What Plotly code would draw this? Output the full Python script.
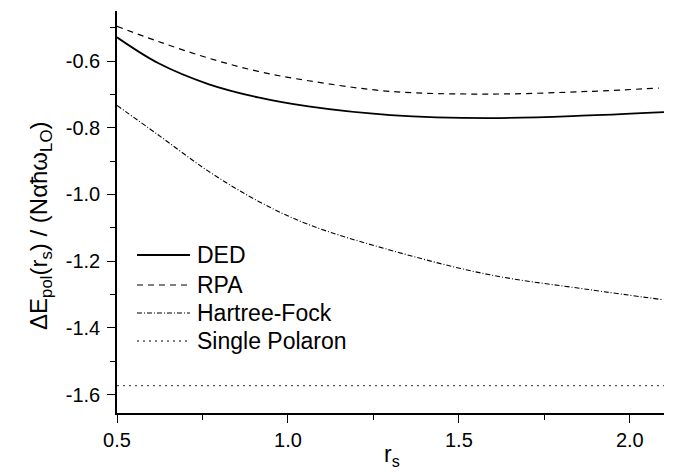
import plotly.graph_objects as go

rs = [0.5, 0.62, 0.767, 0.913, 1.06, 1.3, 1.587, 1.88, 2.1]
ded = [-0.529, -0.606, -0.669, -0.709, -0.736, -0.762, -0.771, -0.763, -0.753]
rs_rpa = [0.5, 0.62, 0.767, 0.913, 1.06, 1.3, 1.587, 1.88, 2.085]
rpa = [-0.496, -0.541, -0.591, -0.631, -0.659, -0.691, -0.699, -0.691, -0.681]
rs_hf = [0.5, 0.62, 0.767, 0.913, 1.06, 1.3, 1.587, 1.88, 2.094]
hf = [-0.733, -0.821, -0.930, -1.020, -1.090, -1.167, -1.240, -1.285, -1.315]
rs_sp = [0.5, 2.1]
single_polaron = [-1.573, -1.573]

series_names = ["DED", "RPA", "Hartree-Fock", "Single Polaron"]

x_tickvals = [0.5, 1.0, 1.5, 2.0]
x_ticktext = ["0.5", "1.0", "1.5", "2.0"]
y_tickvals = [-0.6, -0.8, -1.0, -1.2, -1.4, -1.6]
y_ticktext = ["-0.6", "-0.8", "-1.0", "-1.2", "-1.4", "-1.6"]

x_title = "r<sub>s</sub>"
y_title = "ΔE<sub>pol</sub>(r<sub>s</sub>) / (Nαħω<sub>LO</sub>)"

FONT = "Arial, Liberation Sans, sans-serif"
W, H = 680, 474
ML, MR, MT, MB = 109, 24, 3, 69
PW, PH = W - ML - MR, H - MT - MB

styles = [
    dict(color="black", width=1.8, dash="solid"),
    dict(color="black", width=1.2, dash="6px,5px"),
    dict(color="black", width=1.1, dash="5px,2px,1px,2px"),
    dict(color="#555555", width=1.3, dash="2px,4px"),
]

fig = go.Figure()
for xs, ys, name, st in zip([rs, rs_rpa, rs_hf, rs_sp],
                            [ded, rpa, hf, single_polaron],
                            series_names, styles):
    fig.add_trace(go.Scatter(x=xs, y=ys, mode="lines", name=name,
                             line=dict(color=st["color"], width=st["width"],
                                       dash=st["dash"], shape="spline")))

def px_x(p):
    return (p - ML) / PW

def px_y(p):
    return (H - MB - p) / PH

# legend drawn as shapes + annotations to match the reference layout
leg_rows = [247, 277, 305, 333]
for name, st, yy in zip(series_names, styles, leg_rows):
    fig.add_shape(type="line", xref="paper", yref="paper",
                  x0=px_x(129), x1=px_x(182), y0=px_y(yy), y1=px_y(yy),
                  line=dict(color=st["color"], width=st["width"], dash=st["dash"]))
    fig.add_annotation(text=name, xref="paper", yref="paper",
                       x=px_x(187), y=px_y(yy), xanchor="left", yanchor="middle",
                       showarrow=False,
                       font=dict(family=FONT, size=23, color="black"))

# axis titles as annotations
fig.add_annotation(text=y_title, xref="paper", yref="paper",
                   x=px_x(33), y=px_y(218), xanchor="center", yanchor="middle",
                   textangle=-90, showarrow=False,
                   font=dict(family=FONT, size=24, color="black"))
fig.add_annotation(text=x_title, xref="paper", yref="paper",
                   x=px_x(384), y=px_y(447), xanchor="center", yanchor="middle",
                   showarrow=False,
                   font=dict(family=FONT, size=23, color="black"))

axis_common = dict(
    showline=True, linecolor="black", linewidth=1.5, mirror=False,
    showgrid=False, zeroline=False,
    ticks="outside", ticklen=8, tickwidth=1.3, tickcolor="black",
    tickfont=dict(family=FONT, size=20, color="black"),
)

fig.update_layout(
    width=W, height=H,
    margin=dict(l=ML, r=MR, t=MT, b=MB),
    paper_bgcolor="white", plot_bgcolor="white",
    font=dict(family=FONT, color="black"),
    showlegend=False,
    xaxis=dict(range=[0.5, 2.1], tickvals=x_tickvals, ticktext=x_ticktext,
               minor=dict(dtick=0.25, tick0=0.5, ticks="outside", ticklen=5,
                          tickwidth=1.2, tickcolor="black"),
               **axis_common),
    yaxis=dict(range=[-1.655, -0.45], tickvals=y_tickvals, ticktext=y_ticktext,
               minor=dict(dtick=0.1, tick0=-0.5, ticks="outside", ticklen=5,
                          tickwidth=1.2, tickcolor="black"),
               ticklabelstandoff=3,
               **axis_common),
)

fig.write_html("out.html")
